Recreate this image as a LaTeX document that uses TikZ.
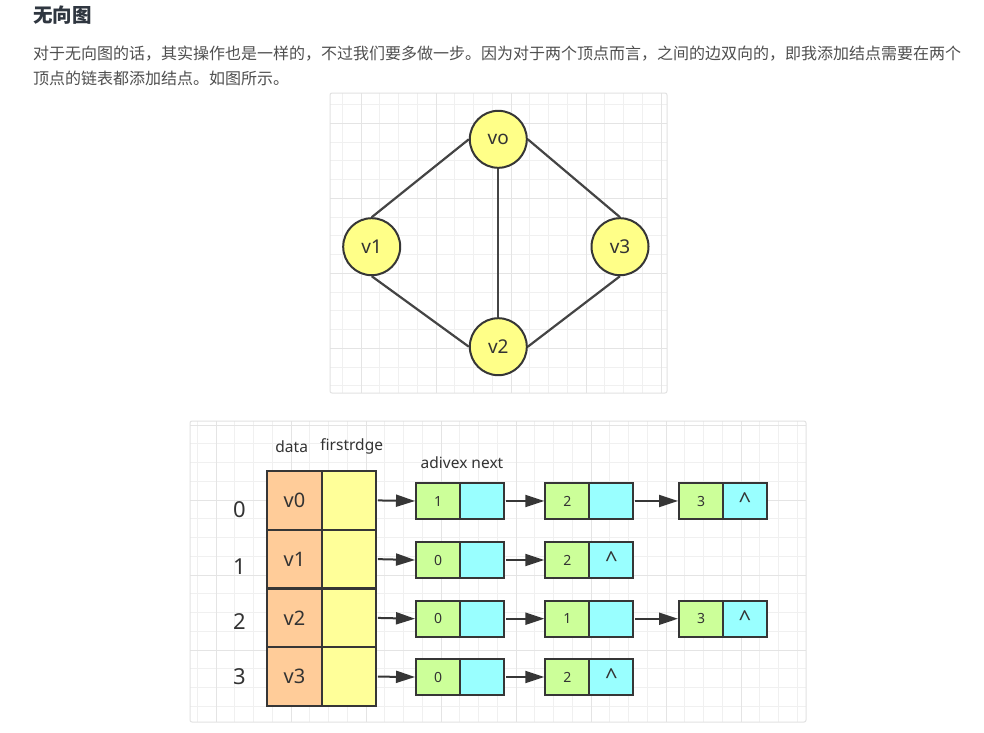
\documentclass[tikz,border=0pt]{standalone}
\usepackage{fontspec}
\setmainfont{Noto Sans}
\newfontfamily\cjk{Noto Sans CJK SC}
\usetikzlibrary{arrows.meta}
\definecolor{titlec}{HTML}{2F3640}
\definecolor{parac}{HTML}{4F4F4F}
\definecolor{linec}{HTML}{363636}
\definecolor{edgec}{HTML}{444444}
\definecolor{textc}{HTML}{333333}
\definecolor{vyellow}{HTML}{FFFF88}
\definecolor{peach}{HTML}{FFCC99}
\definecolor{lyellow}{HTML}{FFFF99}
\definecolor{lgreen}{HTML}{CCFF99}
\definecolor{lcyan}{HTML}{99FFFF}
\definecolor{gridmin}{HTML}{F0F0F0}
\definecolor{gridmaj}{HTML}{E4E4E4}
\definecolor{panelb}{HTML}{E2E2E2}
\begin{document}
\begin{tikzpicture}[x=1pt,y=-1pt,
  gridminor/.style={draw=gridmin, line width=0.8},
  gridmajor/.style={draw=gridmaj, line width=1},
  panel/.style={draw=panelb, line width=1, rounded corners=2},
  vert/.style={circle, draw=linec, line width=2, fill=vyellow, minimum size=57, inner sep=0, font=\fontsize{19}{22}\selectfont, text=textc},
  edge/.style={draw=edgec, line width=2.2},
  cell/.style={rectangle, draw=linec, line width=2, minimum width=54.4, minimum height=58.75, inner sep=0, font=\fontsize{20}{24}\selectfont, text=textc},
  lbox/.style={rectangle, draw=linec, line width=2, minimum width=44, minimum height=36, inner sep=0, text=textc},
  gbox/.style={lbox, fill=lgreen, font=\fontsize{14}{16}\selectfont},
  cbox/.style={lbox, fill=lcyan, font=\fontsize{22}{24}\selectfont},
  arr/.style={draw=linec, line width=2, -{Triangle[length=19,width=12]}, shorten <=1},
  lbl/.style={inner sep=0, text=textc, font=\fontsize{15.5}{18}\selectfont},
  idx/.style={inner sep=0, text=textc, font=\fontsize{22}{24}\selectfont}
]
\useasboundingbox (0,0) rectangle (984,732);
\fill[white] (0,0) rectangle (984,732);

% heading and paragraph
\node[anchor=west, inner sep=0, text=titlec, font=\cjk\bfseries\fontsize{19.5}{22}\selectfont] (title) at (33,15) {无向图};
\node[anchor=west, inner sep=0, text=parac, font=\cjk\fontsize{16}{18}\selectfont] (p1) at (33,53.5) {对于无向图的话，其实操作也是一样的，不过我们要多做一步。因为对于两个顶点而言，之间的边双向的，即我添加结点需要在两个};
\node[anchor=west, inner sep=0, text=parac, font=\cjk\fontsize{16}{18}\selectfont] (p2) at (33,78.5) {顶点的链表都添加结点。如图所示。};

% top panel
\fill[white] (330,93) rectangle (667,393);
\foreach \x in {342.25,361,...,667} \draw[gridminor] (\x,93) -- (\x,393);
\foreach \y in {104.55,123.3,...,393} \draw[gridminor] (330,\y) -- (667,\y);
\foreach \x in {361,436,...,667} \draw[gridmajor] (\x,93) -- (\x,393);
\foreach \y in {123.3,198.3,...,393} \draw[gridmajor] (330,\y) -- (667,\y);
\draw[panel] (330,93) rectangle (667,393);

\node[vert] (v0) at (498.3,139.3) {vo};
\node[vert] (v1) at (371.7,246.7) {v1};
\node[vert] (v3) at (620,246.7) {v3};
\node[vert] (v2) at (498.3,346.7) {v2};
\draw[edge] (v0.west) -- (v1.north);
\draw[edge] (v0.east) -- (v3.north);
\draw[edge] (v0.south) -- (v2.north);
\draw[edge] (v1.south) -- (v2.west);
\draw[edge] (v3.south) -- (v2.east);

% bottom panel
\fill[white] (190,421) rectangle (806,722);
\foreach \x in {197.25,216,...,806} \draw[gridminor] (\x,421) -- (\x,722);
\foreach \y in {425,443.75,...,722} \draw[gridminor] (190,\y) -- (806,\y);
\foreach \x in {216,291,...,806} \draw[gridmajor] (\x,421) -- (\x,722);
\foreach \y in {425,500,...,722} \draw[gridmajor] (190,\y) -- (806,\y);
\draw[panel] (190,421) rectangle (806,722);

\node[lbl] (ldata) at (291.7,446.7) {data};
\node[lbl] (lfirst) at (351.7,446.7) {firstrdge};
\node[lbl] (ladj) at (462,463) {adivex next};

% table
\foreach \k/\y/\iy in {0/500.4/509.3, 1/559.1/566.7, 2/617.9/621.7, 3/676.6/676.7} {
  \node[cell, fill=peach] (d\k) at (294.5,\y) {v\k};
  \node[cell, fill=lyellow] (f\k) at (348.7,\y) {};
  \node[idx] (i\k) at (239.3,\iy) {\k};
}

% row 0
\node[gbox] (g01) at (438,501) {1};   \node[cbox] (c01) at (482,501) {};
\node[gbox] (g02) at (567.3,501) {2}; \node[cbox] (c02) at (611.3,501) {};
\node[gbox] (g03) at (701,501) {3};   \node[cbox] (c03) at (745,501) {\^{}};
% row 1
\node[gbox] (g11) at (438,560) {0};   \node[cbox] (c11) at (482,560) {};
\node[gbox] (g12) at (567.3,560) {2}; \node[cbox] (c12) at (611.3,560) {\^{}};
% row 2
\node[gbox] (g21) at (438,618.7) {0};   \node[cbox] (c21) at (482,618.7) {};
\node[gbox] (g22) at (567.3,618.7) {1}; \node[cbox] (c22) at (611.3,618.7) {};
\node[gbox] (g23) at (701,618.7) {3};   \node[cbox] (c23) at (745,618.7) {\^{}};
% row 3
\node[gbox] (g31) at (438,677) {0};   \node[cbox] (c31) at (482,677) {};
\node[gbox] (g32) at (567.3,677) {2}; \node[cbox] (c32) at (611.3,677) {\^{}};

\draw[arr] (f0.east) -- (g01.west);
\draw[arr] (c01.east) -- (g02.west);
\draw[arr] (c02.east) -- (g03.west);
\draw[arr] (f1.east) -- (g11.west);
\draw[arr] (c11.east) -- (g12.west);
\draw[arr] (f2.east) -- (g21.west);
\draw[arr] (c21.east) -- (g22.west);
\draw[arr] (c22.east) -- (g23.west);
\draw[arr] (f3.east) -- (g31.west);
\draw[arr] (c31.east) -- (g32.west);
\end{tikzpicture}
\end{document}
